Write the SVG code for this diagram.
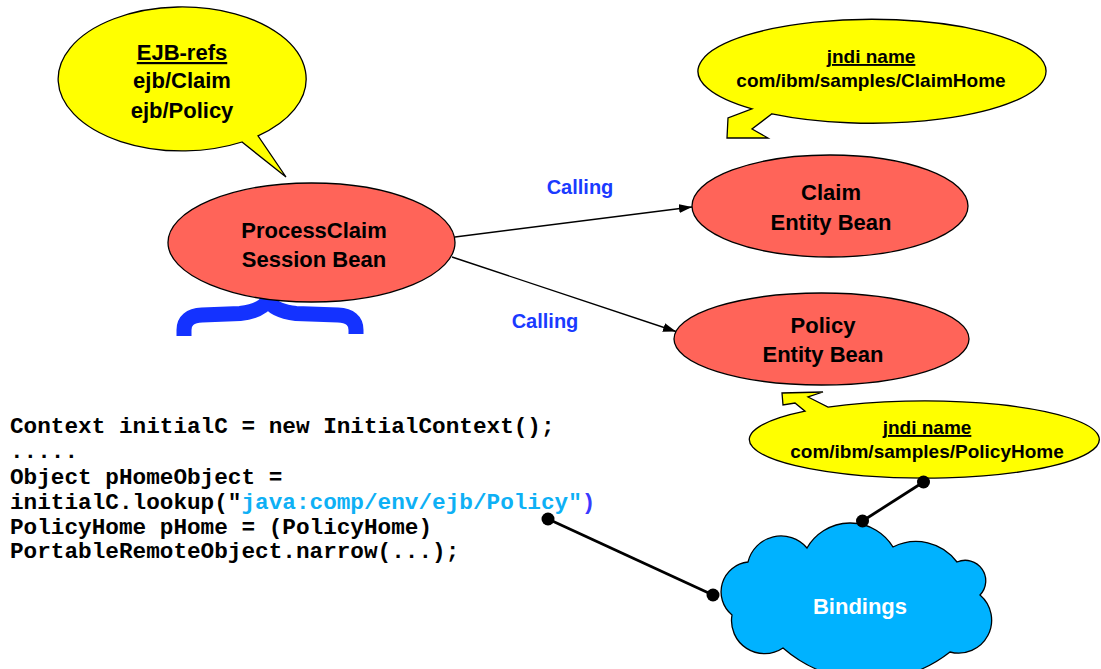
<svg xmlns="http://www.w3.org/2000/svg" width="1101" height="669" viewBox="0 0 1101 669">
  <style>
    .lbl { font-family: "Liberation Sans", Arial, sans-serif; font-weight: bold; fill: #000; text-anchor: middle; }
    .bean { fill: #ff6459; stroke: #000; stroke-width: 1.3; }
    .balloon { fill: #ffff00; stroke: #000; stroke-width: 1.3; stroke-linejoin: miter; }
    .calling { font-family: "Liberation Sans", Arial, sans-serif; font-weight: bold; font-size: 20px; fill: #1a3aff; text-anchor: middle; }
    .code { font-family: "Liberation Mono", "Courier New", monospace; font-weight: bold; font-size: 22.7px; fill: #000; }
    .call { stroke: #000; stroke-width: 1.4; fill: none; }
    .bind { stroke: #000; stroke-width: 2.8; fill: none; }
    .dot { fill: #000; }
  </style>
  <defs>
    <marker id="arrow" markerUnits="userSpaceOnUse" markerWidth="14" markerHeight="10" refX="13" refY="4.5" orient="auto">
      <path d="M0,0 L13,4.5 L0,9 z" fill="#000"/>
    </marker>
  </defs>

  <rect width="1101" height="669" fill="#fff"/>

  <!-- EJB references callout -->
  <g id="ejb-refs">
    <path class="balloon" d="M 258 135.9 A 124 72 0 1 0 242 142 L 286 177 Z"/>
    <text class="lbl" font-size="22" x="182" y="60" text-decoration="underline">EJB-refs</text>
    <text class="lbl" font-size="22" x="182" y="88">ejb/Claim</text>
    <text class="lbl" font-size="22" x="182" y="118">ejb/Policy</text>
  </g>

  <!-- JNDI name for the Claim home -->
  <g id="jndi-claim">
    <path class="balloon" d="M 772 113.8 A 174 52 0 1 0 752 108.9 L 728 118 L 727 138 L 768 138 L 752 129 Z"/>
    <text class="lbl" font-size="19" x="871" y="63" text-decoration="underline">jndi name</text>
    <text class="lbl" font-size="19" x="871" y="87">com/ibm/samples/ClaimHome</text>
  </g>

  <!-- Brace under the session bean -->
  <path id="brace" d="M 184 336 L 184 330 Q 184 316 202 315 L 240 313.5 Q 262 311 268 300 Q 274 311 296 313.5 L 338 315 Q 356 316 356 330 L 356 334" fill="none" stroke="#1432ff" stroke-width="15"/>

  <!-- Session bean -->
  <g id="process-claim">
    <ellipse class="bean" cx="311.5" cy="242.5" rx="143.5" ry="59.5"/>
    <text class="lbl" font-size="22" x="314" y="238">ProcessClaim</text>
    <text class="lbl" font-size="22" x="314" y="267">Session Bean</text>
  </g>

  <!-- Entity beans -->
  <g id="claim-bean">
    <ellipse class="bean" cx="830" cy="206" rx="138" ry="51"/>
    <text class="lbl" font-size="22" x="831" y="200">Claim</text>
    <text class="lbl" font-size="22" x="831" y="230">Entity Bean</text>
  </g>

  <g id="policy-bean">
    <ellipse class="bean" cx="821.5" cy="339" rx="147.5" ry="46"/>
    <text class="lbl" font-size="22" x="823" y="333">Policy</text>
    <text class="lbl" font-size="22" x="823" y="362">Entity Bean</text>
  </g>

  <!-- JNDI name for the Policy home -->
  <g id="jndi-policy">
    <path class="balloon" d="M 805 411.2 A 175 38.7 0 1 0 828 407.2 L 808 397 L 823 392 L 782 393 L 783 405 L 795 403 Z"/>
    <text class="lbl" font-size="19" x="927" y="434" text-decoration="underline">jndi name</text>
    <text class="lbl" font-size="19" x="927" y="458">com/ibm/samples/PolicyHome</text>
  </g>

  <!-- Bindings cloud -->
  <g id="bindings">
    <path d="M 732 615 A 30 30 0 0 1 748 562 A 34 34 0 0 1 807 548 A 50 50 0 0 1 893 547 A 51 51 0 0 1 957 562 A 20.5 20.5 0 0 1 980 595 A 33 33 0 0 1 950 652 A 131 131 0 0 1 783 648 A 33 33 0 0 1 732 615 Z" fill="#00b2ff" stroke="#000" stroke-width="1.3"/>
    <text class="lbl" font-size="22" x="860" y="614" style="fill:#fff">Bindings</text>
  </g>

  <!-- Lookup code -->
  <g id="code">
    <text class="code" x="10" y="433">Context initialC = new InitialContext();</text>
    <text class="code" x="10" y="458">.....</text>
    <text class="code" x="10" y="484">Object pHomeObject =</text>
    <text class="code" x="10" y="509">initialC.lookup("<tspan fill="#0eb0f5">java:comp/env/ejb/Policy"</tspan><tspan fill="#3a3aff">)</tspan></text>
    <text class="code" x="10" y="534">PolicyHome pHome = (PolicyHome)</text>
    <text class="code" x="10" y="558">PortableRemoteObject.narrow(...);</text>
  </g>

  <!-- Connectors -->
  <g id="connectors">
    <line class="call" x1="455" y1="237" x2="692" y2="207" marker-end="url(#arrow)"/>
    <line class="call" x1="452" y1="257" x2="676" y2="331.5" marker-end="url(#arrow)"/>
    <text class="calling" x="580" y="194">Calling</text>
    <text class="calling" x="545" y="328">Calling</text>

    <line class="bind" x1="548" y1="519" x2="713" y2="595"/>
    <circle class="dot" cx="548" cy="519" r="6.5"/>
    <circle class="dot" cx="713" cy="595" r="6.5"/>

    <line class="bind" x1="923.5" y1="482" x2="862.5" y2="521"/>
    <circle class="dot" cx="923.5" cy="482" r="6.5"/>
    <circle class="dot" cx="862.5" cy="521" r="6.5"/>
  </g>
</svg>
